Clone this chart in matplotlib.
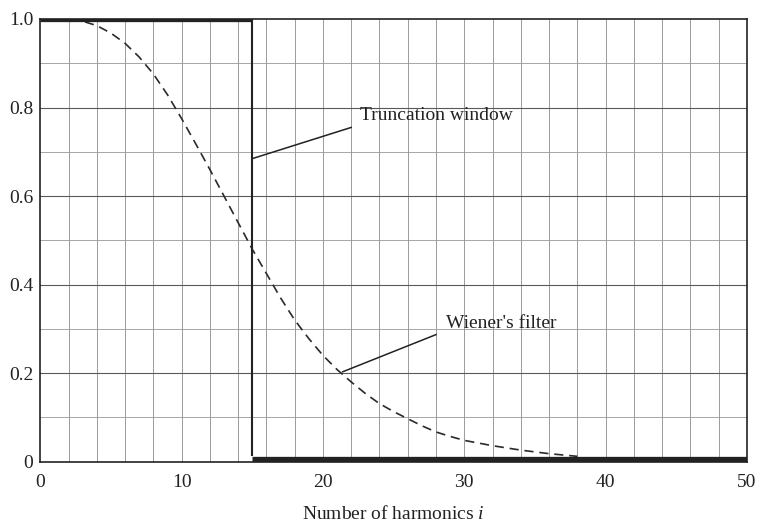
import numpy as np
import matplotlib.pyplot as plt

# -- data --
harmonics = list(range(0, 39))
wiener = [1.0, 1.0, 0.999, 0.995, 0.985, 0.968, 0.945, 0.914, 0.876, 0.829,
          0.775, 0.718, 0.66, 0.6, 0.54, 0.48, 0.425, 0.37, 0.32, 0.278,
          0.24, 0.208, 0.18, 0.154, 0.131, 0.113, 0.097, 0.081, 0.067, 0.057,
          0.048, 0.042, 0.036, 0.031, 0.026, 0.022, 0.018, 0.015, 0.012]

cutoff = 15
trunc_x_on = [0, cutoff]
trunc_y_on = [1.0, 1.0]
trunc_x_off = [cutoff, 50]
trunc_y_off = [0.007, 0.007]

xticks = [0, 10, 20, 30, 40, 50]
yticks = [0, 0.2, 0.4, 0.6, 0.8, 1.0]
yticklabels = ['0', '0.2', '0.4', '0.6', '0.8', '1.0']

plt.rcParams['font.family'] = ['Liberation Serif', 'DejaVu Serif']
plt.rcParams['mathtext.fontset'] = 'custom'
plt.rcParams['mathtext.it'] = 'Liberation Serif:italic'
plt.rcParams['mathtext.rm'] = 'Liberation Serif'

fig = plt.figure(figsize=(7.62, 5.24), dpi=100)
ax = fig.add_axes([0.0528, 0.119, 0.9275, 0.8448])

# -- grid --
for gx in np.arange(2, 50, 2):
    ax.axvline(gx, color='0.55', lw=0.6, zorder=1)
for k in range(1, 10):
    major = k % 2 == 0
    ax.axhline(k / 10, color='0.35' if major else '0.6', lw=0.8 if major else 0.6, zorder=1)

# -- truncation window --
ax.plot(trunc_x_on, trunc_y_on, color='#222222', lw=3.8, solid_capstyle='butt', zorder=3)
ax.plot([cutoff, cutoff], [1.0, 0.015], color='#222222', lw=1.5, zorder=3)
ax.plot(trunc_x_off, trunc_y_off, color='#222222', lw=3.8, solid_capstyle='butt', zorder=3)

# -- Wiener's filter --
ax.plot(harmonics, wiener, color='#2a2a2a', lw=1.2, dashes=(5.5, 3.5), zorder=2)

# -- annotations --
ax.plot([15.05, 22.0], [0.685, 0.755], color='#222222', lw=1.1, zorder=3)
ax.text(22.6, 0.782, 'Truncation window', fontsize=14, va='center', ha='left', color='#222222')
ax.plot([21.4, 28.0], [0.203, 0.287], color='#222222', lw=1.1, zorder=3)
ax.text(28.7, 0.312, "Wiener's filter", fontsize=14, va='center', ha='left', color='#222222')

ax.set_xlim(0, 50)
ax.set_ylim(0, 1.0)
ax.set_xticks(xticks)
ax.set_yticks(yticks)
ax.set_yticklabels(yticklabels)
ax.tick_params(length=0, labelsize=14, colors='#222222')
ax.tick_params(axis='x', pad=9)
ax.tick_params(axis='y', pad=5)
ax.set_xlabel('Number of harmonics $i$', fontsize=14, color='#222222', labelpad=10)

for s in ax.spines.values():
    s.set_color('#222222')
    s.set_linewidth(1.2)

fig.savefig('out.png', dpi=100)
